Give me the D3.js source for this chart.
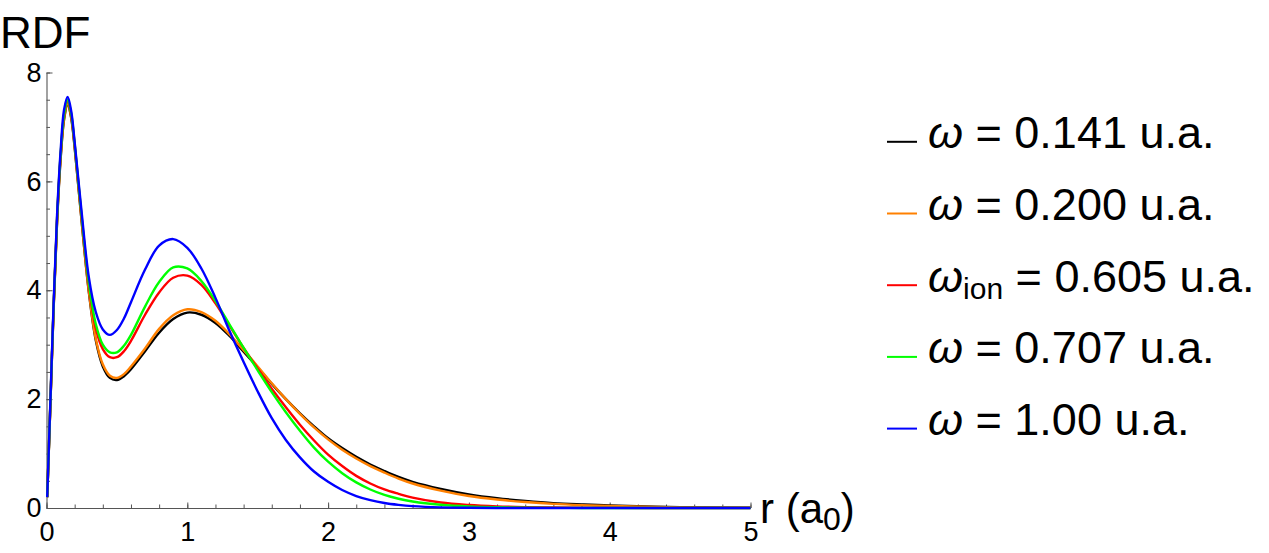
<!DOCTYPE html>
<html>
<head>
<meta charset="utf-8">
<script src="https://cdn.jsdelivr.net/npm/d3@7"></script>
<style>
  body { margin: 0; background: #fff; }
  svg { display: block; font-family: "Liberation Sans", Arial, sans-serif; }
</style>
</head>
<body>
<svg id="chart" width="1269" height="553"></svg>
<script>
const radii = [0.005, 0.025, 0.05, 0.075, 0.1, 0.125, 0.15, 0.175, 0.2, 0.25, 0.3, 0.35, 0.4, 0.45, 0.5, 0.55, 0.6,
  0.7, 0.8, 0.9, 1.0, 1.1, 1.2, 1.3, 1.4, 1.5, 1.6, 1.7, 1.8, 1.9, 2.0, 2.1, 2.2, 2.3, 2.4, 2.5, 2.6,
  2.8, 3.0, 3.2, 3.4, 3.6, 3.8, 4.0, 4.5, 5.0];

const rdf0141 = [0.2, 1.70, 3.62, 5.25, 6.40, 7.14, 7.41, 7.17, 6.62, 5.25, 3.98, 3.08, 2.60, 2.39, 2.35, 2.42, 2.55,
  2.88, 3.22, 3.47, 3.59, 3.55, 3.40, 3.16, 2.87, 2.58, 2.28, 2.00, 1.74, 1.50, 1.28, 1.10, 0.94, 0.80, 0.68, 0.57, 0.48,
  0.35, 0.25, 0.18, 0.13, 0.09, 0.065, 0.045, 0.016, 0.005];
const rdf0200 = [0.2, 1.71, 3.63, 5.27, 6.42, 7.16, 7.43, 7.19, 6.64, 5.26, 4.00, 3.11, 2.64, 2.43, 2.39, 2.46, 2.60,
  2.93, 3.29, 3.54, 3.65, 3.60, 3.44, 3.19, 2.90, 2.60, 2.29, 2.00, 1.73, 1.48, 1.26, 1.07, 0.91, 0.77, 0.65, 0.54, 0.45,
  0.32, 0.22, 0.155, 0.11, 0.075, 0.052, 0.036, 0.012, 0.004];
const rdf0605 = [0.2, 1.72, 3.65, 5.30, 6.46, 7.20, 7.47, 7.22, 6.67, 5.32, 4.10, 3.30, 2.92, 2.77, 2.77, 2.88, 3.07,
  3.55, 3.96, 4.23, 4.27, 4.10, 3.76, 3.35, 2.94, 2.56, 2.19, 1.85, 1.53, 1.24, 0.98, 0.77, 0.59, 0.45, 0.34, 0.26, 0.19,
  0.10, 0.055, 0.03, 0.016, 0.008, 0.004, 0.002, 0, 0];
const rdf0707 = [0.2, 1.73, 3.67, 5.32, 6.49, 7.23, 7.50, 7.25, 6.69, 5.35, 4.15, 3.38, 3.00, 2.86, 2.86, 2.98, 3.18,
  3.70, 4.15, 4.42, 4.40, 4.17, 3.80, 3.37, 2.94, 2.53, 2.13, 1.76, 1.42, 1.11, 0.85, 0.64, 0.47, 0.34, 0.24, 0.17, 0.12,
  0.06, 0.028, 0.013, 0.006, 0.003, 0.001, 0, 0, 0];
const rdf1000 = [0.2, 1.76, 3.72, 5.38, 6.55, 7.32, 7.55, 7.30, 6.72, 5.42, 4.25, 3.60, 3.28, 3.18, 3.27, 3.48, 3.78,
  4.38, 4.82, 4.94, 4.78, 4.40, 3.86, 3.25, 2.68, 2.14, 1.65, 1.25, 0.93, 0.67, 0.48, 0.33, 0.22, 0.145, 0.092, 0.058, 0.035,
  0.012, 0.004, 0.001, 0, 0, 0, 0, 0, 0];

const seriesValues = [rdf0141, rdf0200, rdf0605, rdf0707, rdf1000];
const seriesColors = ["#000000", "#ff8000", "#ff0000", "#00ff00", "#0000ff"];
const legendSubs = ["", "", "ion", "", ""];
const legendValues = ["0.141", "0.200", "0.605", "0.707", "1.00"];

const xTicks = [0, 1, 2, 3, 4, 5];
const yTicks = [0, 2, 4, 6, 8];

const svg = d3.select("#chart");
const x = d3.scaleLinear().domain([0, 5]).range([46.5, 750.5]);
const y = d3.scaleLinear().domain([0, 8]).range([508, 72.5]);

const axisColor = "#555";

// minor ticks
svg.append("g").attr("transform", `translate(0,${y(0)})`)
  .call(d3.axisBottom(x).tickValues(d3.range(0, 5.01, 0.2)).tickSizeInner(-3.5).tickSizeOuter(0).tickFormat(""))
  .call(g => g.select(".domain").remove())
  .selectAll("line").attr("stroke", axisColor);
svg.append("g").attr("transform", `translate(${x(0)},0)`)
  .call(d3.axisLeft(y).tickValues(d3.range(0, 8.01, 0.5)).tickSizeInner(-3.5).tickSizeOuter(0).tickFormat(""))
  .call(g => g.select(".domain").remove())
  .selectAll("line").attr("stroke", axisColor);

// major axes
const xAxis = svg.append("g").attr("transform", `translate(0,${y(0)})`)
  .call(d3.axisBottom(x).tickValues(xTicks).tickFormat(d3.format("d"))
    .tickSizeInner(-5.5).tickSizeOuter(0).tickPadding(14));
const yAxis = svg.append("g").attr("transform", `translate(${x(0)},0)`)
  .call(d3.axisLeft(y).tickValues(yTicks).tickFormat(d3.format("d"))
    .tickSizeInner(-6).tickSizeOuter(0).tickPadding(5));

[xAxis, yAxis].forEach(a => {
  a.attr("font-size", null).attr("font-family", null);
  a.select(".domain").attr("stroke", axisColor).attr("stroke-width", 1.1);
  a.selectAll(".tick line").attr("stroke", axisColor);
  a.selectAll("text").style("font-size", "27px").attr("fill", "#000");
});

// axis titles
svg.append("text").attr("x", 0).attr("y", 48).style("font-size", "44px").text("RDF");
const xt = svg.append("text").attr("x", 760).attr("y", 523).style("font-size", "42px");
xt.append("tspan").text("r (a");
xt.append("tspan").style("font-size", "32px").attr("dy", 7).text("0");
xt.append("tspan").attr("dy", -7).text(")");

// curves
const line = d3.line()
  .x((d, i) => x(radii[i]))
  .y(d => y(d))
  .curve(d3.curveCatmullRom.alpha(0.5));

svg.append("g").selectAll("path")
  .data(seriesValues)
  .join("path")
  .attr("d", d => line(d))
  .attr("fill", "none")
  .attr("stroke", (d, i) => seriesColors[i])
  .attr("stroke-width", 2.4)
  .attr("stroke-linejoin", "round");

// legend
const legend = svg.append("g");
seriesColors.forEach((c, i) => {
  const base = 148.3 + i * 71.7;
  legend.append("line")
    .attr("x1", 887).attr("x2", 917)
    .attr("y1", base - 6.5).attr("y2", base - 6.5)
    .attr("stroke", c).attr("stroke-width", 2);
  const t = legend.append("text").attr("x", 928).attr("y", base).style("font-size", "45px");
  t.append("tspan").attr("font-style", "italic").text("ω");
  if (legendSubs[i]) {
    t.append("tspan").style("font-size", "30px").attr("dy", 7).text(legendSubs[i]);
    t.append("tspan").attr("dy", -7).text(" = " + legendValues[i] + " u.a.");
  } else {
    t.append("tspan").text(" = " + legendValues[i] + " u.a.");
  }
});
</script>
</body>
</html>
